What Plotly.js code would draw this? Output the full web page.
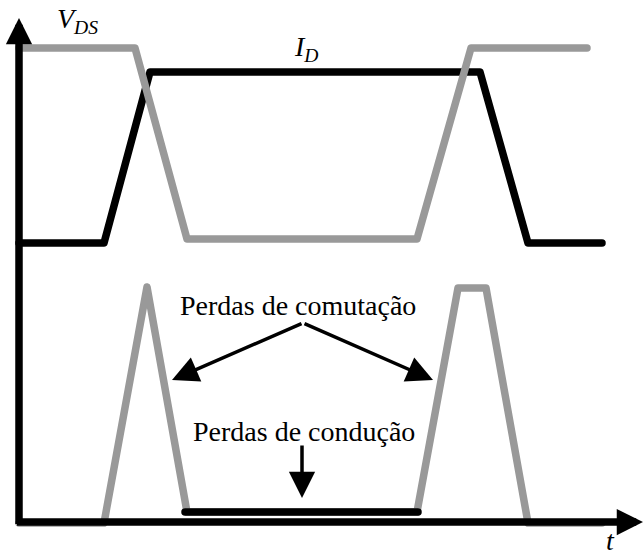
<!DOCTYPE html>
<html>
<head>
<meta charset="utf-8">
<script src="https://cdn.plot.ly/plotly-3.0.1.min.js"></script>
<style>
html,body{margin:0;padding:0;background:#fff;}
#chart{width:644px;height:558px;}
.scatterlayer path.js-line{stroke-linejoin:round;stroke-linecap:round;}
</style>
</head>
<body>
<div id="chart"></div>
<script>
// Schematic waveforms (time axis t, amplitude axis; origin at axes corner)
const tVds = [0, 116, 168, 398, 452, 568];
const vds  = [474, 474, 283, 283, 474, 474];
const tId  = [0, 85, 131, 461, 509, 583];
const id   = [279, 279, 450, 450, 279, 279];
const tLoss = [0, 85, 128, 168, 398, 439, 467, 509, 583];
const loss  = [-1, -1, 235, 10, 10, 234, 234, -1, -1];
const tCond = [166, 399];
const cond  = [10, 10];

const labelVds = '<i>V</i><sub><i>DS</i></sub>';
const labelId = '<i>I</i><sub><i>D</i></sub>';
const labelT = '<i>t</i>';
const labelSwitch = 'Perdas de comutação';
const labelCond = 'Perdas de condução';

const gray = '#999999';
const black = '#000000';
const fontFamily = 'Liberation Serif';

const traces = [
  {x: tId, y: id, mode: 'lines', line: {color: black, width: 7.5}, hoverinfo: 'skip'},
  {x: tVds, y: vds, mode: 'lines', line: {color: gray, width: 7.5}, hoverinfo: 'skip'},
  {x: tLoss, y: loss, mode: 'lines', line: {color: gray, width: 7.5}, hoverinfo: 'skip'},
  {x: tCond, y: cond, mode: 'lines', line: {color: black, width: 7.5}, hoverinfo: 'skip'}
];

function makeLabel(x, y, text, size, yanchor) {
  return {x: x, y: y, xref: 'x', yref: 'y', text: text, showarrow: false,
    font: {family: fontFamily, size: size, color: black},
    xanchor: 'center', yanchor: yanchor || 'middle'};
}
function makeArrow(x, y, ax, ay, w, size) {
  return {x: x, y: y, ax: ax, ay: ay, xref: 'x', yref: 'y', axref: 'x', ayref: 'y',
    text: '', showarrow: true, arrowhead: 2, arrowsize: size, arrowwidth: w,
    arrowcolor: black, standoff: 0, startstandoff: 0};
}

const annotations = [
  // labels
  makeLabel(58, 502, labelVds, 28),
  makeLabel(287, 474, labelId, 28),
  makeLabel(591, -36, labelT, 28, 'bottom'),
  makeLabel(279, 217, labelSwitch, 28),
  makeLabel(285, 91, labelCond, 28),
  // axes
  makeArrow(0, 504, 0, -3.5, 7.5, 0.7),
  makeArrow(624, 0, -3.5, 0, 7.5, 0.7),
  // loss pointers
  makeArrow(153, 142, 284, 199, 3.5, 1.5),
  makeArrow(414, 142, 284, 199, 3.5, 1.5),
  makeArrow(283, 24, 283, 78, 3.5, 1.5)
];

const layout = {
  width: 644, height: 558,
  margin: {l: 0, r: 0, t: 0, b: 0},
  paper_bgcolor: '#ffffff', plot_bgcolor: '#ffffff',
  showlegend: false,
  font: {family: fontFamily, color: black},
  xaxis: {range: [-19, 625], visible: false, fixedrange: true},
  yaxis: {range: [-36, 522], visible: false, fixedrange: true},
  annotations: annotations
};

Plotly.newPlot('chart', traces, layout, {displayModeBar: false});
</script>
</body>
</html>
